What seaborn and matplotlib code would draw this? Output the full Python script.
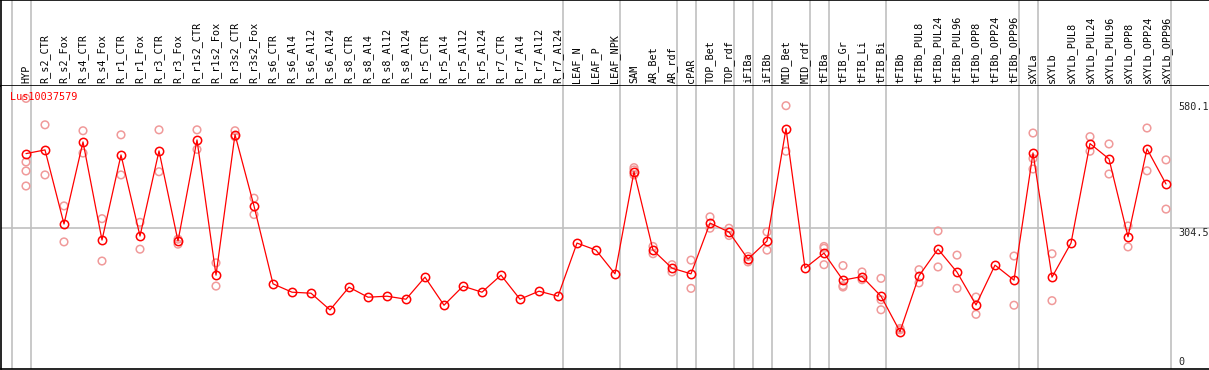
import numpy as np
import pandas as pd
import matplotlib
matplotlib.use("Agg")
import matplotlib.pyplot as plt
import seaborn as sns

sns.set_style("white")
plt.rcParams['font.family'] = ['DejaVu Sans Mono', 'DejaVu Sans']

# samples along the x axis
samples = ["HYP", "R_s2_CTR", "R_s2_Fox", "R_s4_CTR", "R_s4_Fox", "R_r1_CTR", "R_r1_Fox",
           "R_r3_CTR", "R_r3_Fox", "R_r1s2_CTR", "R_r1s2_Fox", "R_r3s2_CTR", "R_r3s2_Fox",
           "R_s6_CTR", "R_s6_Al4", "R_s6_Al12", "R_s6_Al24", "R_s8_CTR", "R_s8_Al4", "R_s8_Al12",
           "R_s8_Al24", "R_r5_CTR", "R_r5_Al4", "R_r5_Al12", "R_r5_Al24", "R_r7_CTR", "R_r7_Al4",
           "R_r7_Al12", "R_r7_Al24", "LEAF_N", "LEAF_P", "LEAF_NPK", "SAM", "AR_Bet", "AR_rdf",
           "cPAR", "TOP_Bet", "TOP_rdf", "iFIBa", "iFIBb", "MID_Bet", "MID_rdf", "tFIBa",
           "tFIB_Gr", "tFIB_Li", "tFIB_Bi", "tFIBb", "tFIBb_PUL8", "tFIBb_PUL24", "tFIBb_PUL96",
           "tFIBb_OPP8", "tFIBb_OPP24", "tFIBb_OPP96", "sXYLa", "sXYLb", "sXYLb_PUL8",
           "sXYLb_PUL24", "sXYLb_PUL96", "sXYLb_OPP8", "sXYLb_OPP24", "sXYLb_OPP96"]

# mean expression per sample
mean_expr = [467.8, 475.9, 313.2, 493.5, 278, 464.9, 286.8, 473.7, 275.8, 497.9,
             201, 509.6, 352.8, 181.9, 163.6, 161.4, 124.7, 174.6, 152.6, 154.8,
             148.2, 196.6, 135, 176.8, 163.6, 201, 148.2, 165.8, 154.8, 271.4,
             256, 203.9, 428.2, 256, 216.4, 203.9, 315.4, 295.6, 236.2, 275.8,
             522.8, 216.4, 249.4, 190, 197.9, 154.8, 77, 199.5, 258.2, 207.6,
             135.7, 223, 190, 469.3, 196.6, 271.4, 489.8, 456.1, 285.2, 478.1, 401.1]

# individual replicates (empty where hidden under the mean marker)
replicates = [[589, 449.5, 429.7, 396.7], [531, 421], [353, 274], [518, 469], [325, 232],
              [509, 421], [317, 258], [520, 428], [280, 269], [520, 477], [228, 177],
              [518, 505], [370, 334], [], [], [], [], [], [], [], [], [], [], [], [], [], [],
              [], [], [], [], [], [437, 432, 421], [264, 248], [224, 208], [234, 172],
              [329, 304], [304, 288], [242, 230], [296, 256], [573, 473], [],
              [264, 224, 260], [222, 178, 175], [208, 191], [194, 147, 125], [84, 81],
              [213, 184], [298, 219], [245, 172], [153, 115], [], [243, 135],
              [513, 457, 434], [248, 145], [], [505, 473], [489, 423], [309, 263],
              [524, 430], [454, 346]]

# a grey separator is drawn right after each of these samples
group_ends = ["HYP", "R_r7_Al24", "LEAF_NPK", "AR_rdf", "cPAR", "TOP_rdf", "iFIBa", "iFIBb",
              "MID_rdf", "tFIBa", "tFIB_Bi", "tFIBb_OPP96", "sXYLa", "sXYLb_OPP96"]

gene = "Lus10037579"
axis_marks = [580.1, 304.5]

df = pd.DataFrame({"pos": np.arange(len(samples)), "sample": samples, "expr": mean_expr})
rep_df = pd.DataFrame([(i, v) for i, reps in enumerate(replicates) for v in reps],
                      columns=["pos", "expr"])

W, H = 1209, 370
fig = plt.figure(figsize=(W / 100, H / 100), dpi=100)
header_px = 85.5
bottom_px = 369
ax_h = fig.add_axes([0.5 / W, 1 - header_px / H, 1208 / W, header_px / H])
ax = fig.add_axes([0.5 / W, (H - bottom_px) / H, 1208 / W, (bottom_px - header_px) / H])

# x scale: sample i sits at px 26 + 19*i
x0 = (0.5 - 26) / 19
x1 = (1208.5 - 26) / 19
for a in (ax, ax_h):
    a.set_xlim(x0, x1)
    a.set_xticks([])
    a.set_yticks([])
ax.set_ylim(-5, 617.3)
ax_h.set_ylim(0, 1)

sep_pos = [-1 + 0.24] + [samples.index(s) + 0.24 for s in group_ends]
for p in sep_pos:
    ax.axvline(p, color="#c0c0c0", lw=1.2, zorder=0)
    ax_h.axvline(p, color="#c0c0c0", lw=1.2, zorder=0)
ax.axhline(axis_marks[1], color="#c0c0c0", lw=1.2, zorder=0)

sns.scatterplot(data=rep_df, x="pos", y="expr", ax=ax, marker="o", s=30,
                facecolor="none", edgecolor="#f09a9a", linewidth=1.1, zorder=2, legend=False)
sns.lineplot(data=df, x="pos", y="expr", ax=ax, color="#ff0000", lw=0.9, marker="o",
             markersize=6, markerfacecolor="none", markeredgecolor="#ff0000",
             markeredgewidth=1.1, zorder=3)
ax.set_xlabel("")
ax.set_ylabel("")

for i, s in enumerate(samples):
    ax_h.text(i, 2.5 / header_px, s, rotation=90, ha="center", va="bottom",
              fontsize=7.3, color="black")

ax.text(9.5 / 1208, (bottom_px - 97) / (bottom_px - header_px), gene, color="#ff0000",
        fontsize=7.3, ha="left", va="center", transform=ax.transAxes)

tx = (1177.5) / 1208
for v in axis_marks:
    ax.text(tx, v, f"{v}", fontsize=7.3, ha="left", va="top",
            transform=ax.get_yaxis_transform())
ax.text(tx, 0, "0", fontsize=7.3, ha="left", va="bottom", transform=ax.get_yaxis_transform())

for a in (ax, ax_h):
    for side in ["left", "top", "bottom"]:
        a.spines[side].set_visible(True)
        a.spines[side].set_color("black")
        a.spines[side].set_linewidth(1.2)
    a.spines["right"].set_visible(False)
ax.spines["top"].set_visible(False)

fig.savefig("out.png", dpi=100)
